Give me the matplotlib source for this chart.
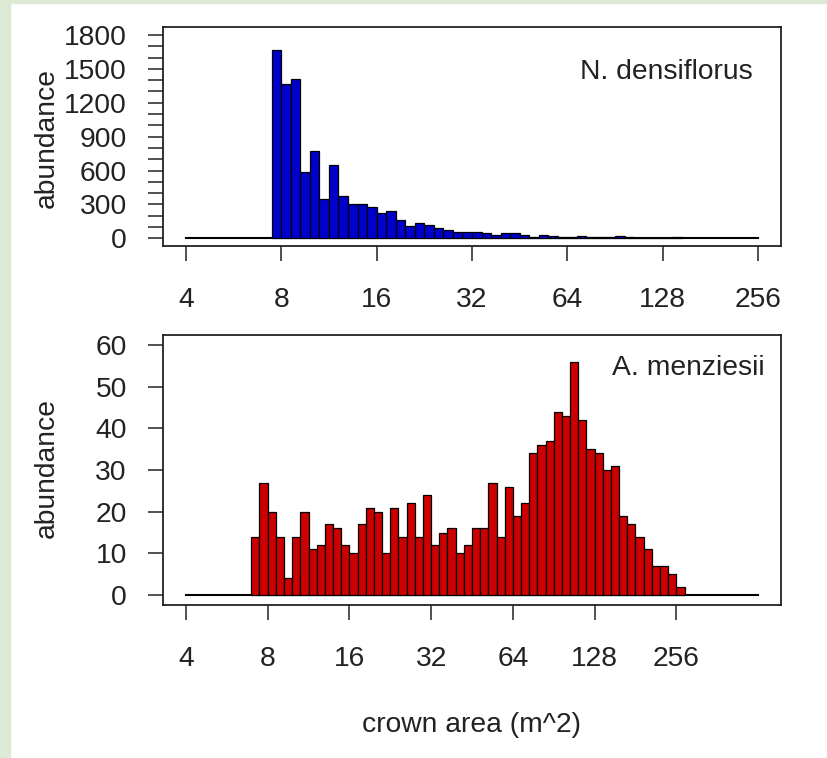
import numpy as np
import matplotlib.pyplot as plt
from matplotlib.patches import Rectangle

plt.rcParams['font.family'] = ['Liberation Sans', 'DejaVu Sans']

# N. densiflorus: counts in log2 bins of width 0.1, first bin starts at log2 = 2.9
dens_start = 2.9
dens_counts = [1670, 1370, 1410, 590, 770, 350, 645, 370, 305, 305,
               275, 225, 240, 160, 112, 133, 119, 92, 77, 59,
               59, 59, 44, 30, 47, 47, 33, 15, 30, 20,
               12, 10, 18, 8, 8, 8, 16, 8, 6, 5,
               4, 0, 10]

# A. menziesii: counts in log2 bins of width 0.1, first bin starts at log2 = 2.8
menz_start = 2.8
menz_counts = [14, 27, 20, 14, 4, 14, 20, 11, 12, 17,
               16, 12, 10, 17, 21, 20, 10, 21, 14, 22,
               14, 24, 12, 15, 16, 10, 12, 16, 16, 27,
               14, 26, 19, 22, 34, 36, 37, 44, 43, 56,
               42, 35, 34, 30, 31, 19, 17, 14, 11, 7,
               7, 5, 2]
bin_width = 0.1

xticks = [4, 8, 16, 32, 64, 128, 256]

FS = 20.3
TXT = '#222222'

fig = plt.figure(figsize=(8.27, 7.58), dpi=100)
fig.patches.append(Rectangle((0, 0), 10 / 827, 1, transform=fig.transFigure,
                             color='#dce9d5', zorder=0))
fig.patches.append(Rectangle((0, 1 - 3 / 758), 1, 3 / 758, transform=fig.transFigure,
                             color='#dce9d5', zorder=0))

ax1 = fig.add_axes([163 / 827, 1 - 246.4 / 758, 618 / 827, 219.5 / 758])
ax2 = fig.add_axes([163 / 827, 1 - 605 / 758, 618 / 827, 270 / 758])


def draw_hist(ax, start, counts, color, line_end, xlo, xhi):
    lefts = start + bin_width * np.arange(len(counts))
    rights = lefts + bin_width
    ax.plot([4, line_end], [0, 0], color='black', lw=1.5, zorder=1)
    ax.bar(2 ** lefts, counts, width=2 ** rights - 2 ** lefts, align='edge',
           color=color, edgecolor='black', linewidth=0.9, zorder=2)
    ax.set_xscale('log', base=2)
    ax.set_xlim(2 ** xlo, 2 ** xhi)
    ax.set_xticks(xticks)
    ax.set_xticklabels([str(v) for v in xticks])
    ax.minorticks_off()
    for s in ax.spines.values():
        s.set_linewidth(1.3)
        s.set_color('#222222')
    ax.tick_params(axis='both', which='both', direction='out', length=11, width=1.1,
                   labelsize=FS, labelcolor=TXT, color='#222222')
    ax.tick_params(axis='x', pad=18.5)
    ax.tick_params(axis='y', pad=15)


draw_hist(ax1, dens_start, dens_counts, '#0000cc', 256, 2 - 0.24, 8 + 0.24)
ax1.set_ylim(-72, 1872)
ax1.set_yticks(range(0, 1801, 300))
ax1.set_yticks(range(0, 1801, 100), minor=True)
ax1.tick_params(axis='y', which='minor', length=11, width=1.1)
ax1.text(0.955, 0.795, 'N. densiflorus', transform=ax1.transAxes,
         ha='right', va='center', fontsize=FS, color=TXT)

draw_hist(ax2, menz_start, menz_counts, '#cc0000', 512, 2 - 0.28, 9 + 0.28)
ax2.set_ylim(-2.4, 62.4)
ax2.set_yticks(range(0, 61, 10))
ax2.text(0.974, 0.878, 'A. menziesii', transform=ax2.transAxes,
         ha='right', va='center', fontsize=FS, color=TXT)

fig.text(47 / 827, 1 - 138 / 758, 'abundance', rotation=90, ha='center', va='center',
         fontsize=FS, color=TXT)
fig.text(47 / 827, 1 - 468 / 758, 'abundance', rotation=90, ha='center', va='center',
         fontsize=FS, color=TXT)
fig.text(472 / 827, 1 - 725 / 758, 'crown area (m^2)', ha='center', va='center',
         fontsize=FS, color=TXT)

fig.savefig('out.png', dpi=100)
